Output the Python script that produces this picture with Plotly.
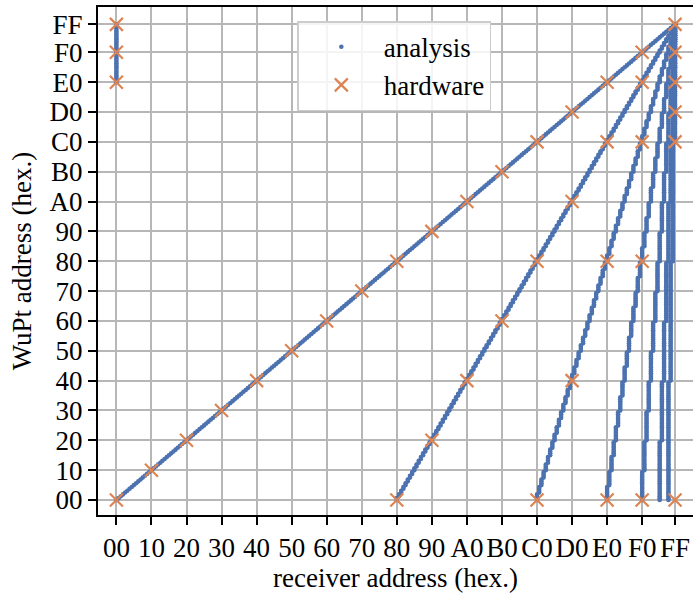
import numpy as np
import plotly.graph_objects as go

# ---------------- data (hex addresses, one row = 16 consecutive WuPt addresses) -------------
wupt_rows = [
    "000102030405060708090A0B0C0D0E0F", "101112131415161718191A1B1C1D1E1F",
    "202122232425262728292A2B2C2D2E2F", "303132333435363738393A3B3C3D3E3F",
    "404142434445464748494A4B4C4D4E4F", "505152535455565758595A5B5C5D5E5F",
    "606162636465666768696A6B6C6D6E6F", "707172737475767778797A7B7C7D7E7F",
    "808182838485868788898A8B8C8D8E8F", "909192939495969798999A9B9C9D9E9F",
    "A0A1A2A3A4A5A6A7A8A9AAABACADAEAF", "B0B1B2B3B4B5B6B7B8B9BABBBCBDBEBF",
    "C0C1C2C3C4C5C6C7C8C9CACBCCCDCECF", "D0D1D2D3D4D5D6D7D8D9DADBDCDDDEDF",
    "E0E1E2E3E4E5E6E7E8E9EAEBECEDEEEF", "F0F1F2F3F4F5F6F7F8F9FAFBFCFDFEFF",
]

# analysis: receiver address for every WuPt address, one list per branch
recv_00_rows = list(wupt_rows)
recv_80_rows = [
    "80808181828283838484858586868787", "888889898A8A8B8B8C8C8D8D8E8E8F8F",
    "90909191929293939494959596969797", "989899999A9A9B9B9C9C9D9D9E9E9F9F",
    "A0A0A1A1A2A2A3A3A4A4A5A5A6A6A7A7", "A8A8A9A9AAAAABABACACADADAEAEAFAF",
    "B0B0B1B1B2B2B3B3B4B4B5B5B6B6B7B7", "B8B8B9B9BABABBBBBCBCBDBDBEBEBFBF",
    "C0C0C1C1C2C2C3C3C4C4C5C5C6C6C7C7", "C8C8C9C9CACACBCBCCCCCDCDCECECFCF",
    "D0D0D1D1D2D2D3D3D4D4D5D5D6D6D7D7", "D8D8D9D9DADADBDBDCDCDDDDDEDEDFDF",
    "E0E0E1E1E2E2E3E3E4E4E5E5E6E6E7E7", "E8E8E9E9EAEAEBEBECECEDEDEEEEEFEF",
    "F0F0F1F1F2F2F3F3F4F4F5F5F6F6F7F7", "F8F8F9F9FAFAFBFBFCFCFDFDFEFEFFFF",
]
recv_C0_rows = [
    "C0C0C0C0C1C1C1C1C2C2C2C2C3C3C3C3", "C4C4C4C4C5C5C5C5C6C6C6C6C7C7C7C7",
    "C8C8C8C8C9C9C9C9CACACACACBCBCBCB", "CCCCCCCCCDCDCDCDCECECECECFCFCFCF",
    "D0D0D0D0D1D1D1D1D2D2D2D2D3D3D3D3", "D4D4D4D4D5D5D5D5D6D6D6D6D7D7D7D7",
    "D8D8D8D8D9D9D9D9DADADADADBDBDBDB", "DCDCDCDCDDDDDDDDDEDEDEDEDFDFDFDF",
    "E0E0E0E0E1E1E1E1E2E2E2E2E3E3E3E3", "E4E4E4E4E5E5E5E5E6E6E6E6E7E7E7E7",
    "E8E8E8E8E9E9E9E9EAEAEAEAEBEBEBEB", "ECECECECEDEDEDEDEEEEEEEEEFEFEFEF",
    "F0F0F0F0F1F1F1F1F2F2F2F2F3F3F3F3", "F4F4F4F4F5F5F5F5F6F6F6F6F7F7F7F7",
    "F8F8F8F8F9F9F9F9FAFAFAFAFBFBFBFB", "FCFCFCFCFDFDFDFDFEFEFEFEFFFFFFFF",
]
recv_E0_rows = [
    "E0E0E0E0E0E0E0E0E1E1E1E1E1E1E1E1", "E2E2E2E2E2E2E2E2E3E3E3E3E3E3E3E3",
    "E4E4E4E4E4E4E4E4E5E5E5E5E5E5E5E5", "E6E6E6E6E6E6E6E6E7E7E7E7E7E7E7E7",
    "E8E8E8E8E8E8E8E8E9E9E9E9E9E9E9E9", "EAEAEAEAEAEAEAEAEBEBEBEBEBEBEBEB",
    "ECECECECECECECECEDEDEDEDEDEDEDED", "EEEEEEEEEEEEEEEEEFEFEFEFEFEFEFEF",
    "F0F0F0F0F0F0F0F0F1F1F1F1F1F1F1F1", "F2F2F2F2F2F2F2F2F3F3F3F3F3F3F3F3",
    "F4F4F4F4F4F4F4F4F5F5F5F5F5F5F5F5", "F6F6F6F6F6F6F6F6F7F7F7F7F7F7F7F7",
    "F8F8F8F8F8F8F8F8F9F9F9F9F9F9F9F9", "FAFAFAFAFAFAFAFAFBFBFBFBFBFBFBFB",
    "FCFCFCFCFCFCFCFCFDFDFDFDFDFDFDFD", "FEFEFEFEFEFEFEFEFFFFFFFFFFFFFFFF",
]
recv_F0_rows = [
    "F0F0F0F0F0F0F0F0F0F0F0F0F0F0F0F0", "F1F1F1F1F1F1F1F1F1F1F1F1F1F1F1F1",
    "F2F2F2F2F2F2F2F2F2F2F2F2F2F2F2F2", "F3F3F3F3F3F3F3F3F3F3F3F3F3F3F3F3",
    "F4F4F4F4F4F4F4F4F4F4F4F4F4F4F4F4", "F5F5F5F5F5F5F5F5F5F5F5F5F5F5F5F5",
    "F6F6F6F6F6F6F6F6F6F6F6F6F6F6F6F6", "F7F7F7F7F7F7F7F7F7F7F7F7F7F7F7F7",
    "F8F8F8F8F8F8F8F8F8F8F8F8F8F8F8F8", "F9F9F9F9F9F9F9F9F9F9F9F9F9F9F9F9",
    "FAFAFAFAFAFAFAFAFAFAFAFAFAFAFAFA", "FBFBFBFBFBFBFBFBFBFBFBFBFBFBFBFB",
    "FCFCFCFCFCFCFCFCFCFCFCFCFCFCFCFC", "FDFDFDFDFDFDFDFDFDFDFDFDFDFDFDFD",
    "FEFEFEFEFEFEFEFEFEFEFEFEFEFEFEFE", "FFFFFFFFFFFFFFFFFFFFFFFFFFFFFFFF",
]
recv_F8_rows = [
    "F8F8F8F8F8F8F8F8F8F8F8F8F8F8F8F8", "F8F8F8F8F8F8F8F8F8F8F8F8F8F8F8F8",
    "F9F9F9F9F9F9F9F9F9F9F9F9F9F9F9F9", "F9F9F9F9F9F9F9F9F9F9F9F9F9F9F9F9",
    "FAFAFAFAFAFAFAFAFAFAFAFAFAFAFAFA", "FAFAFAFAFAFAFAFAFAFAFAFAFAFAFAFA",
    "FBFBFBFBFBFBFBFBFBFBFBFBFBFBFBFB", "FBFBFBFBFBFBFBFBFBFBFBFBFBFBFBFB",
    "FCFCFCFCFCFCFCFCFCFCFCFCFCFCFCFC", "FCFCFCFCFCFCFCFCFCFCFCFCFCFCFCFC",
    "FDFDFDFDFDFDFDFDFDFDFDFDFDFDFDFD", "FDFDFDFDFDFDFDFDFDFDFDFDFDFDFDFD",
    "FEFEFEFEFEFEFEFEFEFEFEFEFEFEFEFE", "FEFEFEFEFEFEFEFEFEFEFEFEFEFEFEFE",
    "FFFFFFFFFFFFFFFFFFFFFFFFFFFFFFFF", "FFFFFFFFFFFFFFFFFFFFFFFFFFFFFFFF",
]
recv_FC_rows = [
    "FCFCFCFCFCFCFCFCFCFCFCFCFCFCFCFC", "FCFCFCFCFCFCFCFCFCFCFCFCFCFCFCFC",
    "FCFCFCFCFCFCFCFCFCFCFCFCFCFCFCFC", "FCFCFCFCFCFCFCFCFCFCFCFCFCFCFCFC",
    "FDFDFDFDFDFDFDFDFDFDFDFDFDFDFDFD", "FDFDFDFDFDFDFDFDFDFDFDFDFDFDFDFD",
    "FDFDFDFDFDFDFDFDFDFDFDFDFDFDFDFD", "FDFDFDFDFDFDFDFDFDFDFDFDFDFDFDFD",
    "FEFEFEFEFEFEFEFEFEFEFEFEFEFEFEFE", "FEFEFEFEFEFEFEFEFEFEFEFEFEFEFEFE",
    "FEFEFEFEFEFEFEFEFEFEFEFEFEFEFEFE", "FEFEFEFEFEFEFEFEFEFEFEFEFEFEFEFE",
    "FFFFFFFFFFFFFFFFFFFFFFFFFFFFFFFF", "FFFFFFFFFFFFFFFFFFFFFFFFFFFFFFFF",
    "FFFFFFFFFFFFFFFFFFFFFFFFFFFFFFFF", "FFFFFFFFFFFFFFFFFFFFFFFFFFFFFFFF",
]
# broadcast branch: receiver 00 answers WuPt E0..FF
bcast_recv_rows = ["00000000000000000000000000000000", "00000000000000000000000000000000"]
bcast_wupt_rows = ["E0E1E2E3E4E5E6E7E8E9EAEBECEDEEEF", "F0F1F2F3F4F5F6F7F8F9FAFBFCFDFEFF"]

# hardware measurements (receiver, WuPt)
hw_receiver = [0x00, 0x00, 0x00,
               0x00, 0x10, 0x20, 0x30, 0x40, 0x50, 0x60, 0x70, 0x80, 0x90, 0xA0, 0xB0,
               0xC0, 0xD0, 0xE0, 0xF0, 0xFF,
               0x80, 0x90, 0xA0, 0xB0, 0xC0, 0xD0, 0xE0, 0xF0,
               0xC0, 0xD0, 0xE0, 0xF0,
               0xE0, 0xF0,
               0xF0,
               0xFF, 0xFF, 0xFF, 0xFF, 0xFF]
hw_wupt = [0xFF, 0xF0, 0xE0,
           0x00, 0x10, 0x20, 0x30, 0x40, 0x50, 0x60, 0x70, 0x80, 0x90, 0xA0, 0xB0,
           0xC0, 0xD0, 0xE0, 0xF0, 0xFF,
           0x00, 0x20, 0x40, 0x60, 0x80, 0xA0, 0xC0, 0xE0,
           0x00, 0x40, 0x80, 0xC0,
           0x00, 0x80,
           0x00,
           0x00, 0xC0, 0xD0, 0xE0, 0xF0]

tick_vals = [0x00, 0x10, 0x20, 0x30, 0x40, 0x50, 0x60, 0x70, 0x80, 0x90, 0xA0, 0xB0,
             0xC0, 0xD0, 0xE0, 0xF0, 0xFF]
tick_text = ["00", "10", "20", "30", "40", "50", "60", "70", "80", "90", "A0", "B0",
             "C0", "D0", "E0", "F0", "FF"]


def parse(rows):
    return list(bytes.fromhex("".join(rows)))


wupt = parse(wupt_rows)
branches = [recv_00_rows, recv_80_rows, recv_C0_rows, recv_E0_rows,
            recv_F0_rows, recv_F8_rows, recv_FC_rows]
an_x, an_y = [], []
for rows in branches:
    an_x += parse(rows)
    an_y += wupt
an_x += parse(bcast_recv_rows)
an_y += parse(bcast_wupt_rows)

BLUE = "#4C72B0"
ORANGE = "#DD8452"
FONT = "Liberation Serif"
FS = 27

fig = go.Figure()
fig.add_trace(go.Scatter(
    x=an_x, y=an_y, mode="markers", name="analysis",
    marker=dict(color=BLUE, size=4.6, line=dict(width=0)),
))
fig.add_trace(go.Scatter(
    x=hw_receiver, y=hw_wupt, mode="markers", name="hardware",
    marker=dict(symbol="x-thin", color=ORANGE, size=13,
                line=dict(color=ORANGE, width=2.2)),
))

axis_common = dict(
    tickvals=tick_vals, ticktext=tick_text,
    showgrid=True, gridcolor="#b7b7b7", gridwidth=1.5,
    zeroline=False, showline=True, linecolor="black", linewidth=2,
    ticks="outside", ticklen=8, tickwidth=1.5, tickcolor="black",
    tickfont=dict(family=FONT, size=FS, color="black"),
    automargin=False,
)

fig.update_layout(
    width=693, height=597,
    margin=dict(l=98, r=0, t=7, b=82),
    paper_bgcolor="white", plot_bgcolor="white",
    font=dict(family=FONT, size=FS, color="black"),
    xaxis=dict(range=[-8.4, 263.2], mirror=True,
               title=dict(text="receiver address (hex.)", font=dict(family=FONT, size=FS),
                          standoff=5),
               **axis_common),
    yaxis=dict(range=[-8.04, 264.3],
               title=dict(text="WuPt address (hex.)", font=dict(family=FONT, size=FS),
                          standoff=10),
               **axis_common),
    legend=dict(x=0.335, y=0.972, xanchor="left", yanchor="top",
                bgcolor="rgba(255,255,255,0.85)", bordercolor="#cccccc", borderwidth=1.5,
                font=dict(family=FONT, size=FS, color="black"),
                itemwidth=75, tracegroupgap=0),
    showlegend=True,
)

fig.write_html("out.html", config={"displayModeBar": False},
               post_script="document.body.style.margin='0';document.body.style.padding='0';")
